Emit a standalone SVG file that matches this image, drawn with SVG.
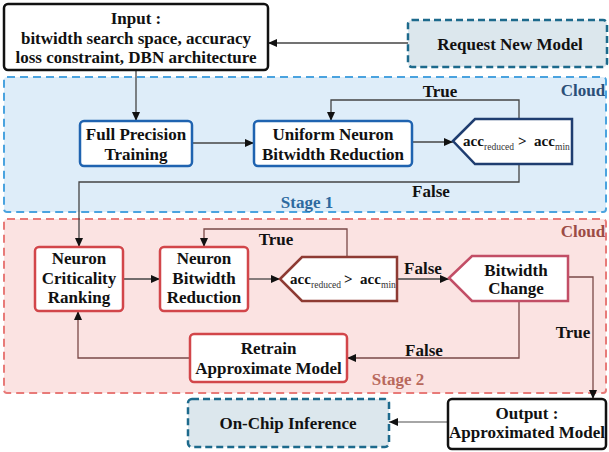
<svg xmlns="http://www.w3.org/2000/svg" width="609" height="452" viewBox="0 0 609 452">
<defs>
<marker id="ah" markerUnits="userSpaceOnUse" markerWidth="10" markerHeight="10" viewBox="0 0 10 10" refX="9" refY="5" orient="auto">
<path d="M0,1 L9,5 L0,9 Z" fill="#111"/>
</marker>
<marker id="ahg" markerUnits="userSpaceOnUse" markerWidth="10" markerHeight="10" viewBox="0 0 10 10" refX="9" refY="5" orient="auto">
<path d="M0,1 L9,5 L0,9 Z" fill="#111"/>
</marker>
</defs>
<style>
text{font-family:"Liberation Serif","Times New Roman",serif;font-weight:bold;font-size:17px;fill:#111;text-anchor:middle}
.sub{font-weight:normal;font-size:9.5px;text-anchor:start;fill:#333}
.acc{font-size:15px;text-anchor:start}
.box{fill:#fff;stroke-width:2.5}
.blue{stroke:#1f63b0}
.red{stroke:#d2464a}
.blk{stroke:#111}
.dash{fill:#dce7ed;stroke:#1d6a8c;stroke-width:2.5;stroke-dasharray:7 4}
.con{fill:none;stroke:#444;stroke-width:1.3}
.conr{fill:none;stroke:#7a4a48;stroke-width:1.3}
.cong{fill:none;stroke:#888;stroke-width:1.6}
</style>
<g id="regions">
<rect x="4" y="77" width="602" height="135" rx="3" fill="#deedf9" stroke="#4aa3df" stroke-width="2" stroke-dasharray="8 5"/>
<rect x="4" y="219" width="602" height="174" rx="3" fill="#fbe3e2" stroke="#e87a78" stroke-width="2" stroke-dasharray="8 5"/>
<text x="583" y="96" style="fill:#2b4f78">Cloud</text>
<text x="307" y="208" style="fill:#2d6aa0">Stage 1</text>
<text x="583" y="237" style="fill:#9c4b45">Cloud</text>
<text x="398" y="385" style="fill:#b8685c">Stage 2</text>
</g>
<g id="connectors">
<path class="con" d="M408,43 H268" marker-end="url(#ah)"/>
<path class="con" d="M136,70 V121" marker-end="url(#ah)"/>
<path class="con" d="M192,143 H254" marker-end="url(#ah)"/>
<path class="con" d="M412,142 H453" marker-end="url(#ah)"/>
<path class="con" d="M519,119 V100 H331 V121" marker-end="url(#ah)"/>
<path class="con" d="M519,164 V182 H79 V247" marker-end="url(#ah)"/>
<path class="con" d="M123,279 H160" marker-end="url(#ah)"/>
<path class="con" d="M248,279 H280" marker-end="url(#ah)"/>
<path class="conr" d="M347,257 V229 H204 V247" marker-end="url(#ah)"/>
<path class="con" d="M397,279 H449" marker-end="url(#ah)"/>
<path class="conr" d="M568,277 H593 V399" marker-end="url(#ah)"/>
<path class="conr" d="M519,301 V358 H347" marker-end="url(#ah)"/>
<path class="conr" d="M190,358 H78 V311" marker-end="url(#ah)"/>
<path class="cong" d="M448,422 H389" marker-end="url(#ah)"/>
<text x="440" y="97">True</text>
<text x="431" y="197">False</text>
<text x="276" y="245">True</text>
<text x="423" y="274">False</text>
<text x="573" y="338">True</text>
<text x="424" y="356">False</text>
</g>
<g id="input">
<rect class="box blk" x="4" y="4" width="264" height="66" rx="4"/>
<text x="136" y="24">Input :</text>
<text x="136" y="44">bitwidth search space, accuracy</text>
<text x="136" y="63">loss constraint, DBN architecture</text>
</g>
<g id="request">
<rect class="dash" x="408" y="20" width="199" height="47" rx="4"/>
<text x="510" y="50">Request New Model</text>
</g>
<g id="fullprecision">
<rect class="box blue" x="80" y="121" width="112" height="45" rx="4"/>
<text x="136" y="140">Full Precision</text>
<text x="136" y="160">Training</text>
</g>
<g id="uniform">
<rect class="box blue" x="254" y="121" width="158" height="45" rx="4"/>
<text x="333" y="140">Uniform Neuron</text>
<text x="333" y="160">Bitwidth Reduction</text>
</g>
<g id="cond1">
<polygon points="453,141 475,119 572,119 572,164 475,164" fill="#fff" stroke="#1f3d70" stroke-width="2.5"/>
<text class="acc" x="463" y="146">acc</text>
<text class="sub" x="484" y="150">reduced</text>
<text class="acc" x="518" y="146">&gt;</text>
<text class="acc" x="534" y="146">acc</text>
<text class="sub" x="555" y="150">min</text>
</g>
<g id="criticality">
<rect class="box red" x="35" y="247" width="88" height="64" rx="4"/>
<text x="79" y="264">Neuron</text>
<text x="79" y="284">Criticality</text>
<text x="79" y="303">Ranking</text>
</g>
<g id="nbr">
<rect class="box red" x="160" y="247" width="88" height="64" rx="4"/>
<text x="204" y="264">Neuron</text>
<text x="204" y="284">Bitwidth</text>
<text x="204" y="303">Reduction</text>
</g>
<g id="cond2">
<polygon points="280,279 302,257 397,257 397,301 302,301" fill="#fff" stroke="#8e3b33" stroke-width="2.5"/>
<text class="acc" x="290" y="284">acc</text>
<text class="sub" x="311" y="288">reduced</text>
<text class="acc" x="344" y="284">&gt;</text>
<text class="acc" x="360" y="284">acc</text>
<text class="sub" x="381" y="288">min</text>
</g>
<g id="bitwidthchange">
<polygon points="449,278 472,256 568,256 568,301 472,301" fill="#fff" stroke="#c24e66" stroke-width="2.5"/>
<text x="516" y="276">Bitwidth</text>
<text x="516" y="294">Change</text>
</g>
<g id="retrain">
<rect class="box red" x="190" y="334" width="157" height="48" rx="4"/>
<text x="268.5" y="354">Retrain</text>
<text x="268.5" y="374">Approximate Model</text>
</g>
<g id="output">
<rect class="box blk" x="448" y="399" width="158" height="50" rx="4"/>
<text x="527" y="419">Output :</text>
<text x="527" y="438">Approximated Model</text>
</g>
<g id="onchip">
<rect class="dash" x="188" y="399" width="201" height="48" rx="4"/>
<text x="288" y="429">On-Chip Inference</text>
</g>
</svg>
